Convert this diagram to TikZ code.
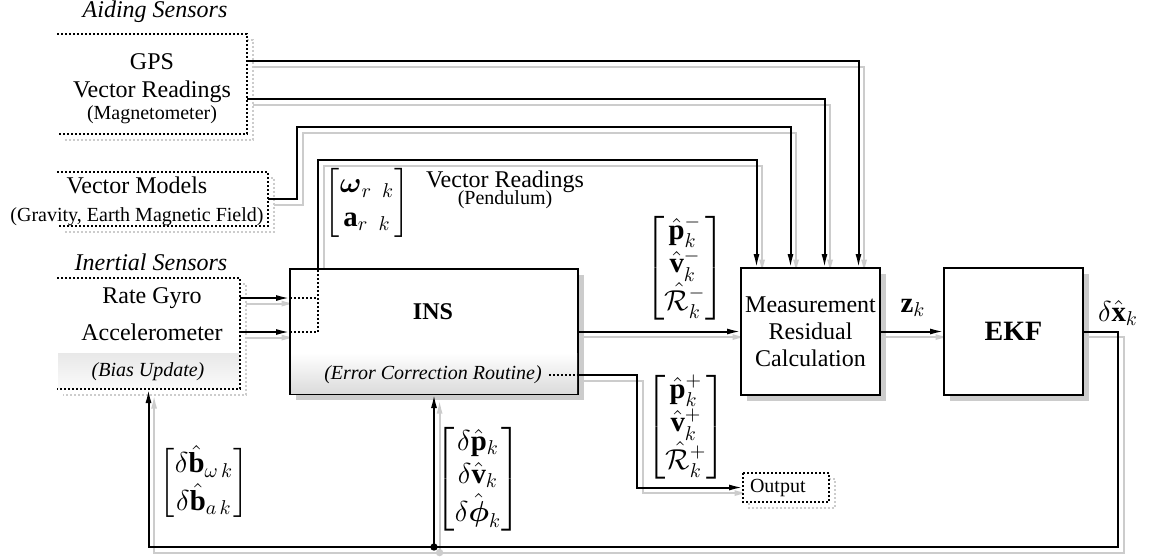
\documentclass[tikz,border=0pt]{standalone}
\usepackage{amsmath}
\usepackage{amssymb}
\usepackage{fontspec}
\setmainfont{Liberation Serif}
\usetikzlibrary{arrows.meta,positioning,calc,shadows}
\pgfdeclarelayer{back}
\pgfdeclarelayer{mid}
\pgfsetlayers{back,mid,main}
\newcommand{\subtxt}{\fontsize{10}{12}\selectfont}
% a connector plus its grey offset copy behind the boxes
\newcommand{\wire}[2][]{%
  \begin{pgfonlayer}{back}
    \draw[wireshadow,#1] #2;
  \end{pgfonlayer}
  \draw[wireline,#1] #2;}
\tikzset{
  wireline/.style={line width=1pt},
  wireshadow/.style={line width=1pt, color=black!20, transform canvas={shift={(2.8pt,-2.8pt)}}},
  dotline/.style={dash pattern=on 1pt off 1pt},
  box/.style={draw, line width=1pt, fill=white, outer sep=0pt, inner sep=1pt, align=center,
    drop shadow={shadow xshift=3pt, shadow yshift=-3pt, fill=black!20, opacity=1}},
  sensorarea/.style={fill=white, outer sep=0pt, inner sep=0pt},
  band/.style={inner sep=0pt, outer sep=0pt, anchor=south},
  vec/.style={font=\fontsize{14.4}{16.7}\selectfont},
}

\begin{document}
\begin{tikzpicture}[x=0.5pt, y=-0.5pt, >={Latex[length=7pt,width=3pt]},
  every node/.style={font=\fontsize{12}{14}\selectfont}]
\useasboundingbox (0,0) rectangle (1152,559);

% blocks
\begin{pgfonlayer}{mid}
\node[sensorarea, minimum width=95pt, minimum height=50pt] (aiding) at (152,84) {};
\node[sensorarea, minimum width=105.5pt, minimum height=27pt] (models) at (162.5,199) {};
\node[sensorarea, minimum width=91.5pt, minimum height=55.5pt] (inertial) at (148.5,333.5) {};
\node[band, top color=black!9, bottom color=black!2, minimum width=90.5pt, minimum height=17.5pt] (biasband) at ([yshift=0.5pt]inertial.south) {};
\node[box, minimum width=144pt, minimum height=62.5pt] (ins) at (434,331.5) {};
\node[band, top color=white, bottom color=black!14, minimum width=143pt, minimum height=20pt] (insband) at ([yshift=0.5pt]ins.south) {};
\node[box, minimum width=69.5pt, minimum height=63.5pt, font=\fontsize{12}{13.5}\selectfont] (meas) at (810.5,331.5) {Measurement\\Residual\\Calculation};
\node[box, minimum width=69.5pt, minimum height=63.5pt, font=\fontsize{14}{16}\selectfont\bfseries] (ekf) at (1013.5,331.5) {EKF};
\node[sensorarea, text width=36pt, inner xsep=3.5pt, minimum height=14.5pt, font=\subtxt] (output) at (786,487.5) {Output};
\end{pgfonlayer}

% texts
\node[font=\fontsize{12}{14}\selectfont\itshape] (aidtitle) at (155,12) {Aiding Sensors};
\node[align=center] (aidtext) at (152,89) {GPS\\Vector Readings\\[-3pt]{\subtxt (Magnetometer)}};
\node[align=center] (modtext) at (137,201) {Vector Models\\{\subtxt (Gravity, Earth Magnetic Field)}};
\node[font=\fontsize{12}{14}\selectfont\itshape] (inertitle) at (151,262) {Inertial Sensors};
\node (gyro) at (152,298) {Rate Gyro};
\node (accel) at (152,332) {Accelerometer};
\node[font=\subtxt\itshape] (bias) at (148,372) {(Bias Update)};
\node[font=\fontsize{12}{14}\selectfont\bfseries] (inslabel) at (433,312) {INS};
\node[font=\subtxt\itshape] (ecr) at (433,375) {(Error Correction Routine)};
\node[align=center] (pendtext) at (505,190) {Vector Readings\\[-5.5pt]{\subtxt (Pendulum)}};
\node[vec] (omegavec) at (367,203) {$\begin{bmatrix}\boldsymbol{\omega}_{r\;\;k}\\ \mathbf{a}_{r\;\;k}\end{bmatrix}$};
\node[vec] (pminus) at (685,268) {$\begin{bmatrix}\hat{\mathbf{p}}_k^-\\ \hat{\mathbf{v}}_k^-\\ \hat{\mathcal{R}}_k^-\end{bmatrix}$};
\node[vec] (pplus) at (686,427) {$\begin{bmatrix}\hat{\mathbf{p}}_k^+\\ \hat{\mathbf{v}}_k^+\\ \hat{\mathcal{R}}_k^+\end{bmatrix}$};
\node[vec] (zk) at (913,308) {$\mathbf{z}_k$};
\node[vec] (dxk) at (1118,313) {$\delta\hat{\mathbf{x}}_k$};
\node[vec] (dbias) at (204,483) {$\begin{bmatrix}\delta\hat{\mathbf{b}}_{\omega\,k}\\ \delta\hat{\mathbf{b}}_{a\,k}\end{bmatrix}$};
\node[vec] (dpos) at (478,479) {$\begin{bmatrix}\delta\hat{\mathbf{p}}_k\\ \delta\hat{\mathbf{v}}_k\\ \delta\hat{\boldsymbol{\phi}}_k\end{bmatrix}$};

% sensor frames (open on the left)
\wire[dotline]{(aiding.north west) -| (aiding.south east) -- (aiding.south west)}
\wire[dotline]{(models.north west) -| (models.south east) -- (models.south west)}
\wire[dotline]{(inertial.north west) -| (inertial.south east) -- (inertial.south west)}
\wire[dotline]{(output.north west) rectangle (output.south east)}

% connectors
\coordinate (modbend) at (297,127);
\coordinate (pend) at (318,160);
\coordinate (outbend) at (637,487.5);
\coordinate (fb) at (1118,547);
\wire[->]{([yshift=11.5pt]aiding.east) -| ([xshift=24pt]meas.north)}
\wire[->]{([yshift=-7.5pt]aiding.east) -| ([xshift=7pt]meas.north)}
\wire[->]{(models.east) -| (modbend) -| ([xshift=-10pt]meas.north)}
\wire[->]{(ins.north -| pend) -- (pend) -| ([xshift=-27pt]meas.north)}
\wire[->]{(inertial.east |- gyro) -- (ins.west |- gyro)}
\wire[->]{(inertial.east |- accel) -- (ins.west |- accel)}
\wire[->]{(ins.east) -- (meas.west)}
\wire[->]{(meas.east) -- (ekf.west)}
\wire[->]{(ecr.east -| ins.east) -| (outbend) -- (output.west)}
\wire[->]{(ekf.east) -| (fb) -| (inertial.south)}
\wire[->]{(ins.south |- fb) -- (ins.south)}
\wire[fill]{(ins.south |- fb) circle (1.3pt)}

% routing inside the INS block
\draw[line width=1pt, dotline] (ins.west |- accel) -| (ins.north -| pend);
\draw[line width=1pt, dotline] (ins.west |- gyro) -- (gyro -| pend);
\draw[line width=1pt, dotline] (ecr.east) -- (ecr.east -| ins.east);
\end{tikzpicture}
\end{document}
